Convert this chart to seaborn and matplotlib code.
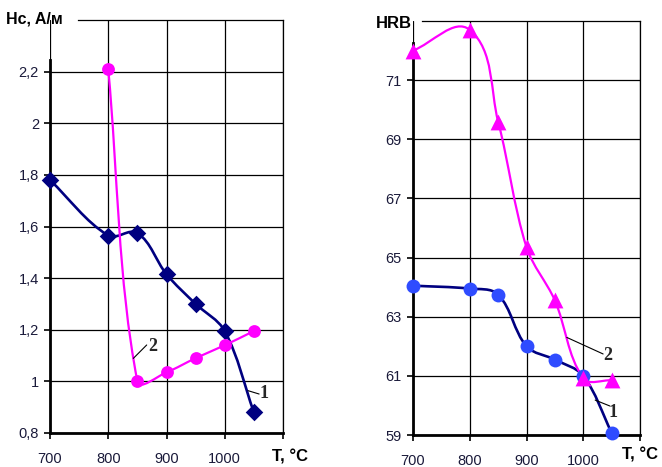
import numpy as np
import matplotlib
matplotlib.use("Agg")
import matplotlib.pyplot as plt
from matplotlib.path import Path
from matplotlib.patches import PathPatch
import seaborn as sns

sns.set_style("white")
plt.rcParams['font.family'] = ['Liberation Sans', 'DejaVu Sans']

# --- data ---
temps_hc1 = [700, 800, 850, 900, 950, 1000, 1050]
hc_1 = [1.78, 1.565, 1.575, 1.415, 1.30, 1.195, 0.88]
temps_hc2 = [800, 850, 900, 950, 1000, 1050]
hc_2 = [2.21, 1.00, 1.035, 1.09, 1.14, 1.195]

temps_hrb = [700, 800, 850, 900, 950, 1000, 1050]
hrb_1 = [64.05, 63.95, 63.75, 62.0, 61.55, 61.0, 59.08]
hrb_2 = [72.0, 72.7, 69.6, 65.35, 63.55, 60.92, 60.85]

x_ticks = [700, 800, 900, 1000, 1100]
x_labels = ['700', '800', '900', '1000', '']
hc_ticks = [0.8, 1.0, 1.2, 1.4, 1.6, 1.8, 2.0, 2.2]
hc_labels = ['0,8', '1', '1,2', '1,4', '1,6', '1,8', '2', '2,2']
hrb_ticks = [59, 61, 63, 65, 67, 69, 71]
hrb_labels = ['59', '61', '63', '65', '67', '69', '71']

NAVY = '#000080'
MAGENTA = '#ff00ff'
BLUE = '#2f4cff'
TICK_COL = '#1a1a3a'


def smooth_path(ax, xs, ys):
    # Excel-like smoothed line: cubic Bezier, tangents built in screen space
    pts = ax.transData.transform(np.column_stack([xs, ys]).astype(float))
    n = len(pts)
    verts = [pts[0]]
    codes = [Path.MOVETO]

    def tangent(i):
        a = pts[max(i - 1, 0)]
        b = pts[min(i + 1, n - 1)]
        d = b - a
        return d / np.hypot(*d)

    for i in range(n - 1):
        p1, p2 = pts[i], pts[i + 1]
        seg = np.hypot(*(p2 - p1)) / 3
        verts += [p1 + tangent(i) * seg, p2 - tangent(i + 1) * seg, p2]
        codes += [Path.CURVE4] * 3
    verts = ax.transData.inverted().transform(np.array(verts))
    return Path(verts, codes)


def add_line(ax, xs, ys, color, lw):
    ax.add_patch(PathPatch(smooth_path(ax, xs, ys), facecolor='none',
                           edgecolor=color, lw=lw, zorder=2,
                           transform=ax.transData))


def style_axis(ax, ylim, yticks, ylabels, spine_top_y, top_start_x):
    ax.set_xlim(700, 1100)
    ax.set_ylim(*ylim)
    ax.set_xticks(x_ticks)
    ax.set_xticklabels(x_labels)
    ax.set_yticks(yticks)
    ax.set_yticklabels(ylabels)
    ax.grid(True, color='black', lw=0.9)
    ax.set_axisbelow(True)
    for s in ['left', 'bottom']:
        ax.spines[s].set_color('black')
        ax.spines[s].set_linewidth(2.0)
    for s in ['top', 'right']:
        ax.spines[s].set_color('black')
        ax.spines[s].set_linewidth(0.9)
    ax.spines['left'].set_bounds(ylim[0], spine_top_y)
    ax.spines['top'].set_bounds(top_start_x, 1100)
    ax.tick_params(axis='both', direction='out', length=4, width=1.2,
                   color='black', labelsize=10.5, labelcolor=TICK_COL,
                   left=True, bottom=True)
    ax.tick_params(axis='x', pad=10)
    ax.tick_params(axis='y', pad=4)
    ax.set_xlabel('')
    ax.set_ylabel('')


fig = plt.figure(figsize=(6.62, 4.67), dpi=100)
ax1 = fig.add_axes([50 / 662, 34 / 467, 233 / 662, 413 / 467])
ax2 = fig.add_axes([413 / 662, 32 / 467, 227 / 662, 414 / 467])

# --- left panel: coercive force ---
style_axis(ax1, (0.8, 2.4), hc_ticks, hc_labels, 2.245, 748)
add_line(ax1, temps_hc1, hc_1, NAVY, 1.9)
add_line(ax1, temps_hc2, hc_2, MAGENTA, 1.6)
sns.scatterplot(x=temps_hc1, y=hc_1, marker='D', s=80, color=NAVY,
                edgecolor=NAVY, linewidth=0, ax=ax1, zorder=3, clip_on=False)
sns.scatterplot(x=temps_hc2, y=hc_2, marker='o', s=85, color=MAGENTA,
                edgecolor=MAGENTA, linewidth=0, ax=ax1, zorder=3, clip_on=False)
style_axis(ax1, (0.8, 2.4), hc_ticks, hc_labels, 2.245, 748)

ax1.plot([843, 866], [1.089, 1.141], color='black', lw=0.8, zorder=4)
ax1.text(868, 1.135, '2', family='Liberation Serif', fontweight='bold',
         fontsize=13, ha='left', va='center', zorder=5)
ax1.plot([1040, 1059], [0.964, 0.951], color='black', lw=0.8, zorder=4)
ax1.text(1060, 0.952, '1', family='Liberation Serif', fontweight='bold',
         fontsize=13, ha='left', va='center', zorder=5, clip_on=False)

# --- right panel: hardness ---
style_axis(ax2, (59, 73), hrb_ticks, hrb_labels, 72.26, 716)
add_line(ax2, temps_hrb, hrb_1, NAVY, 1.9)
add_line(ax2, temps_hrb, hrb_2, MAGENTA, 1.6)
sns.scatterplot(x=temps_hrb, y=hrb_1, marker='o', s=100, color=BLUE,
                edgecolor=BLUE, linewidth=0, ax=ax2, zorder=3, clip_on=False)
sns.scatterplot(x=temps_hrb, y=hrb_2, marker='^', s=130, color=MAGENTA,
                edgecolor=MAGENTA, linewidth=0, ax=ax2, zorder=3,
                clip_on=False)
style_axis(ax2, (59, 73), hrb_ticks, hrb_labels, 72.26, 716)

ax2.plot([971, 1035], [62.30, 61.74], color='black', lw=0.8, zorder=4)
ax2.text(1036, 61.68, '2', family='Liberation Serif', fontweight='bold',
         fontsize=13, ha='left', va='center', zorder=5)
ax2.plot([1021, 1047], [60.18, 59.98], color='black', lw=0.8, zorder=4)
ax2.text(1045, 59.75, '1', family='Liberation Serif', fontweight='bold',
         fontsize=13, ha='left', va='center', zorder=5)

# --- axis titles ---
fig.text(6 / 662, 1 - 19 / 467, 'Hc, A/м', fontsize=11.5, fontweight='bold',
         ha='left', va='center', color='black')
fig.text(376 / 662, 1 - 24 / 467, 'HRB', fontsize=12, fontweight='bold',
         ha='left', va='center', color='black')
fig.text(272 / 662, 1 - 457 / 467, 'T, °C', fontsize=12, fontweight='bold',
         ha='left', va='center', color='black')
fig.text(622 / 662, 1 - 455 / 467, 'T, °C', fontsize=12, fontweight='bold',
         ha='left', va='center', color='black')

fig.savefig('out.png', dpi=100)
